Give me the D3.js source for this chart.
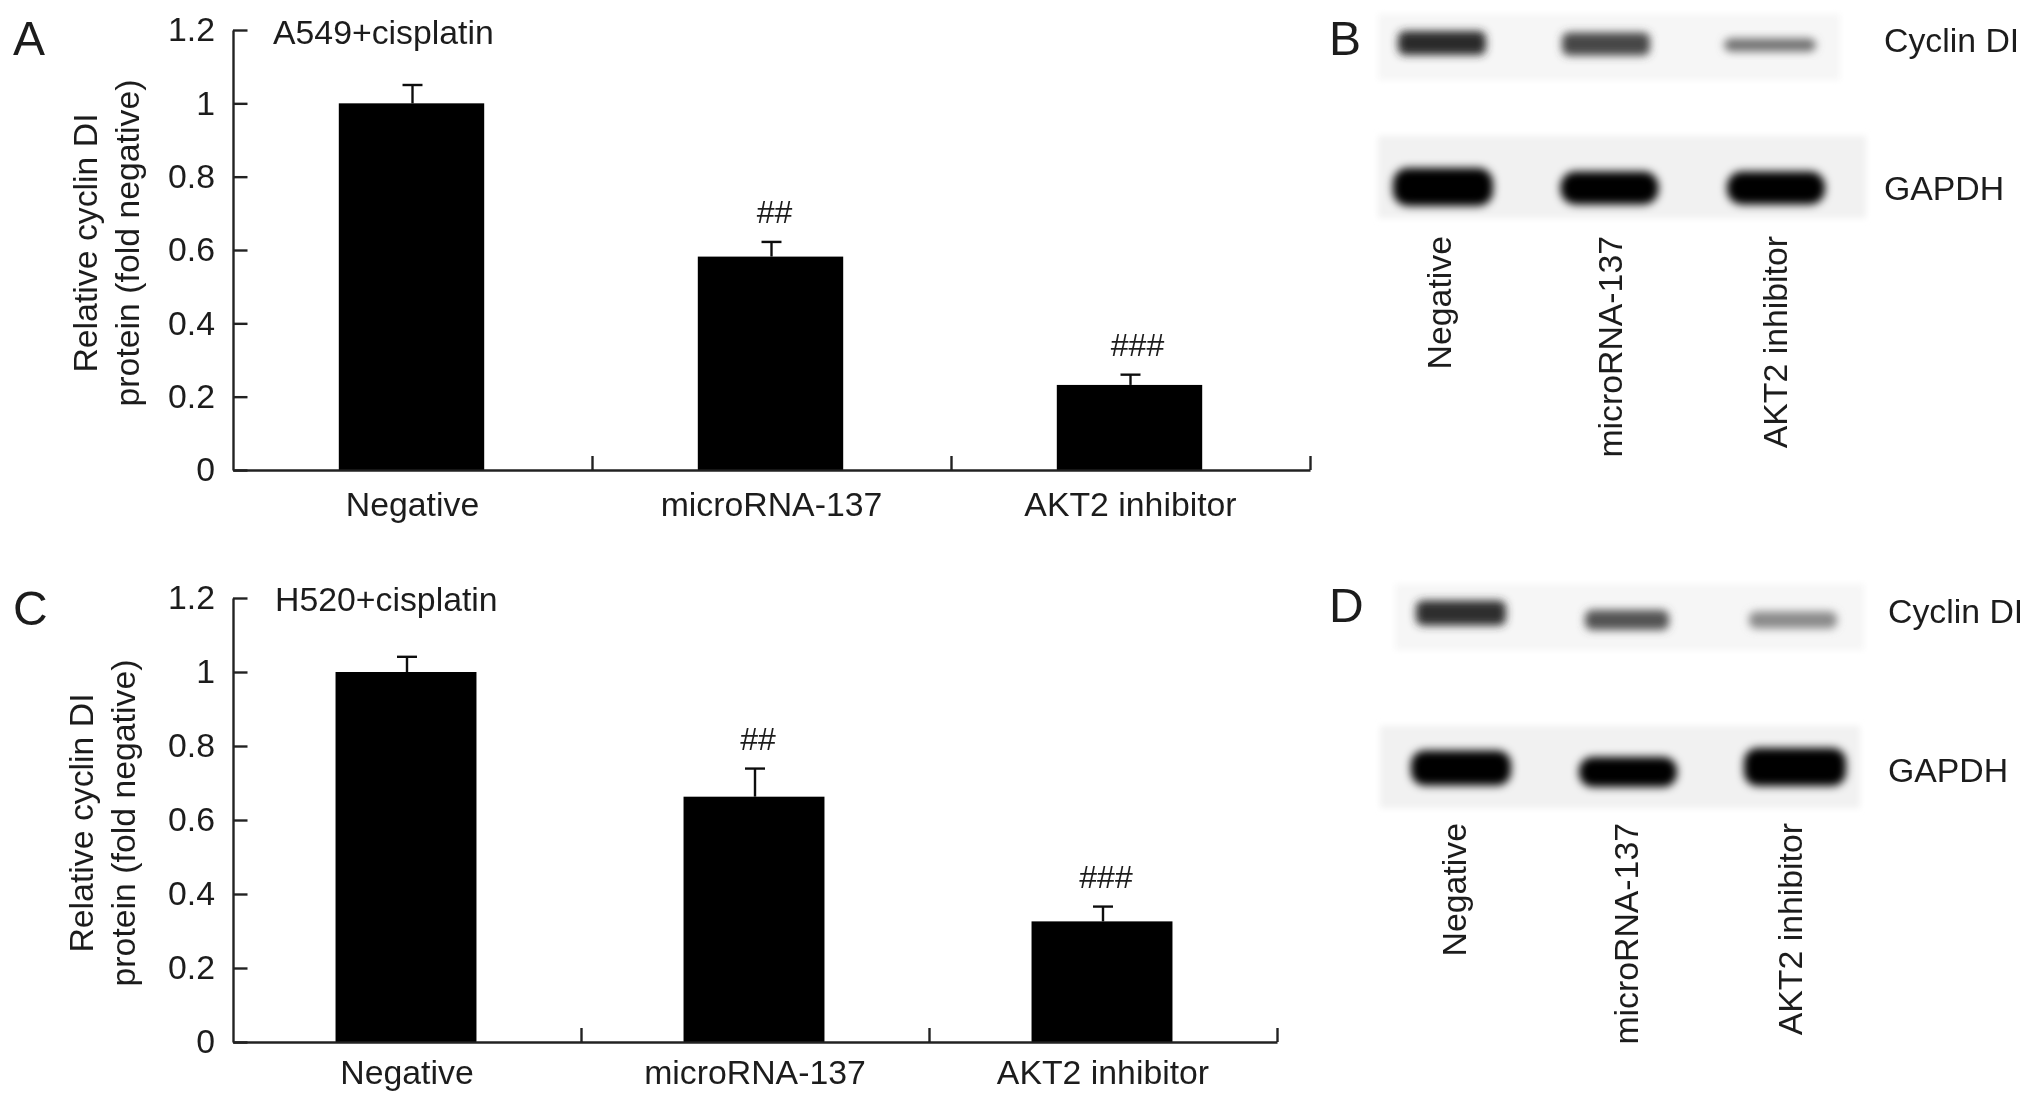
<!DOCTYPE html>
<html>
<head>
<meta charset="utf-8">
<script src="https://cdn.jsdelivr.net/npm/d3@7"></script>
<style>
  html, body { margin: 0; background: #fff; }
  svg { display: block; }
  text { font-family: "Liberation Sans", Arial, sans-serif; fill: #1c1c1c; }
</style>
</head>
<body>
<svg id="fig" width="2032" height="1105"></svg>
<script>
const categories = ['Negative', 'microRNA-137', 'AKT2 inhibitor'];
const yTicks = [0, 0.2, 0.4, 0.6, 0.8, 1, 1.2];
const marks = ['', '##', '###'];

// values, error = top of the whisker
const a549Values = [1, 0.582, 0.232];
const a549Errors = [1.05, 0.622, 0.26];
const h520Values = [1, 0.663, 0.326];
const h520Errors = [1.041, 0.739, 0.366];

// rough band darkness of the blots, 0 = paper, 1 = black
const blotBCyclin = [0.84, 0.72, 0.56];
const blotBGapdh = [1, 1, 1];
const blotDCyclin = [0.82, 0.68, 0.46];
const blotDGapdh = [1, 1, 1];

const svg = d3.select('#fig');
const defs = svg.append('defs');

function addBlur(id, dev) {
  defs.append('filter').attr('id', id)
    .attr('x', '-30%').attr('y', '-60%').attr('width', '160%').attr('height', '220%')
    .append('feGaussianBlur').attr('stdDeviation', dev);
}
addBlur('soft', 0.55);
addBlur('band', 4);
addBlur('paper', 3);

const root = svg.append('g').attr('filter', 'url(#soft)');
const FONT = 33.8;

function drawBars(o) {
  const g = root.append('g');
  const y = d3.scaleLinear().domain([0, 1.2]).range([o.bottom, o.top]);
  const x = d3.scaleBand().domain(categories).range([o.left, o.right]);
  const slots = d3.scaleLinear().domain([0, 3]).range([o.left, o.right]);
  const barW = x.bandwidth() * 0.405;

  g.selectAll('.bar').data(categories).join('rect')
    .attr('class', 'bar')
    .attr('x', d => x(d) + x.bandwidth() / 2 - barW / 2 - 1)
    .attr('width', barW)
    .attr('y', (d, i) => y(o.values[i]))
    .attr('height', (d, i) => o.bottom - y(o.values[i]))
    .attr('fill', '#000');

  // whiskers
  const err = g.selectAll('.err').data(categories).join('g')
    .attr('class', 'err')
    .attr('transform', d => `translate(${x(d) + x.bandwidth() / 2},0)`)
    .attr('stroke', '#111').attr('stroke-width', 2.4);
  err.append('line')
    .attr('y1', (d, i) => y(o.values[i]))
    .attr('y2', (d, i) => y(o.errors[i]));
  err.append('line')
    .attr('x1', -10).attr('x2', 10)
    .attr('y1', (d, i) => y(o.errors[i]))
    .attr('y2', (d, i) => y(o.errors[i]));

  g.selectAll('.mark').data(categories).join('text')
    .attr('class', 'mark')
    .attr('x', (d, i) => x(d) + x.bandwidth() / 2 + o.markDx[i])
    .attr('y', (d, i) => y(o.errors[i]) - 19)
    .attr('text-anchor', 'middle')
    .attr('font-size', 32)
    .text((d, i) => marks[i]);

  // axes
  const yAxis = g.append('g').attr('transform', `translate(${o.left},0)`)
    .call(d3.axisLeft(y).tickValues(yTicks).tickSize(-14.5).tickSizeOuter(0).tickPadding(18)
      .tickFormat(d => String(d)));
  const xAxis = g.append('g').attr('transform', `translate(0,${o.bottom})`)
    .call(d3.axisBottom(slots).tickValues([1, 2, 3]).tickSize(-14).tickSizeOuter(0).tickFormat(''));
  [yAxis, xAxis].forEach(a => {
    a.selectAll('path, line').attr('stroke', '#222').attr('stroke-width', 2.4);
  });
  yAxis.selectAll('text').attr('font-size', FONT).attr('font-family', null).attr('fill', null);

  g.selectAll('.cat').data(categories).join('text')
    .attr('class', 'cat')
    .attr('x', (d, i) => x(d) + x.bandwidth() / 2 + o.catDx)
    .attr('y', o.bottom + o.catGap)
    .attr('text-anchor', 'middle')
    .attr('font-size', FONT)
    .text(d => d);

  g.append('text').attr('x', o.titleX).attr('y', o.titleY).attr('font-size', FONT).text(o.title);

  o.yLabel.forEach((line, i) => {
    g.append('text')
      .attr('transform', `translate(${o.labelX[i]},${o.labelY}) rotate(-90)`)
      .attr('text-anchor', 'middle')
      .attr('font-size', FONT)
      .text(line);
  });
}

function drawBlot(o) {
  const g = svg.append('g');
  g.append('rect')
    .attr('x', o.x0).attr('y', o.y0)
    .attr('width', o.x1 - o.x0).attr('height', o.y1 - o.y0)
    .attr('fill', o.paper).attr('filter', 'url(#paper)');
  const cx = d3.scalePoint().domain(categories).range(o.centers);
  const shade = d3.scaleLinear().domain([0, 1]).range(['#ffffff', '#000000']);
  g.selectAll('.lane').data(categories).join('rect')
    .attr('class', 'lane')
    .attr('x', (d, i) => cx(d) - o.bandW[i] / 2)
    .attr('width', (d, i) => o.bandW[i])
    .attr('y', (d, i) => o.cy[i] - o.bandH[i] / 2)
    .attr('height', (d, i) => o.bandH[i])
    .attr('rx', o.rx)
    .attr('fill', (d, i) => shade(o.values[i]))
    .attr('filter', 'url(#band)');
}

drawBars({
  left: 233, right: 1310, top: 30, bottom: 470,
  values: a549Values, errors: a549Errors,
  markDx: [0, 3, 7], catDx: 0, catGap: 46,
  title: 'A549+cisplatin', titleX: 273, titleY: 44,
  yLabel: ['Relative cyclin DI', 'protein (fold negative)'],
  labelX: [97, 139], labelY: 243
});

drawBars({
  left: 233, right: 1277, top: 598, bottom: 1042,
  values: h520Values, errors: h520Errors,
  markDx: [0, 3, 3], catDx: 0, catGap: 42,
  title: 'H520+cisplatin', titleX: 275, titleY: 611,
  yLabel: ['Relative cyclin DI', 'protein (fold negative)'],
  labelX: [93, 135], labelY: 823
});

drawBlot({ x0: 1378, x1: 1840, y0: 14, y1: 80, paper: '#f6f6f6', centers: [1442, 1770],
  bandW: [88, 88, 92], cy: [43, 44, 45], bandH: [24, 23, 13], rx: 7, values: blotBCyclin });
drawBlot({ x0: 1378, x1: 1866, y0: 136, y1: 218, paper: '#f1f1f1', centers: [1443, 1776],
  bandW: [100, 98, 98], cy: [187, 188, 188], bandH: [38, 33, 33], rx: 15, values: blotBGapdh });
drawBlot({ x0: 1395, x1: 1864, y0: 584, y1: 650, paper: '#f6f6f6', centers: [1461, 1793],
  bandW: [90, 84, 88], cy: [613, 620, 620], bandH: [25, 20, 17], rx: 7, values: blotDCyclin });
drawBlot({ x0: 1380, x1: 1860, y0: 726, y1: 808, paper: '#f1f1f1', centers: [1461, 1795],
  bandW: [100, 98, 102], cy: [768, 772, 767], bandH: [35, 30, 38], rx: 14, values: blotDGapdh });

// text round the blots
const labels = svg.append('g').attr('filter', 'url(#soft)');
function blotText(x, y, s) {
  labels.append('text').attr('x', x).attr('y', y).attr('font-size', FONT).text(s);
}
blotText(1884, 52, 'Cyclin DI');
blotText(1884, 200, 'GAPDH');
blotText(1888, 623, 'Cyclin DI');
blotText(1888, 782, 'GAPDH');

function laneLabels(xs, top) {
  categories.forEach((c, i) => {
    labels.append('text')
      .attr('transform', `translate(${xs[i]},${top}) rotate(-90)`)
      .attr('text-anchor', 'end')
      .attr('font-size', FONT)
      .text(c);
  });
}
laneLabels([1451, 1622, 1787], 236);
laneLabels([1466, 1638, 1802], 823);

[['A', 13, 55], ['B', 1329, 55], ['C', 13, 625], ['D', 1329, 622]].forEach(p => {
  labels.append('text').attr('x', p[1]).attr('y', p[2]).attr('font-size', 48).text(p[0]);
});
</script>
</body>
</html>
